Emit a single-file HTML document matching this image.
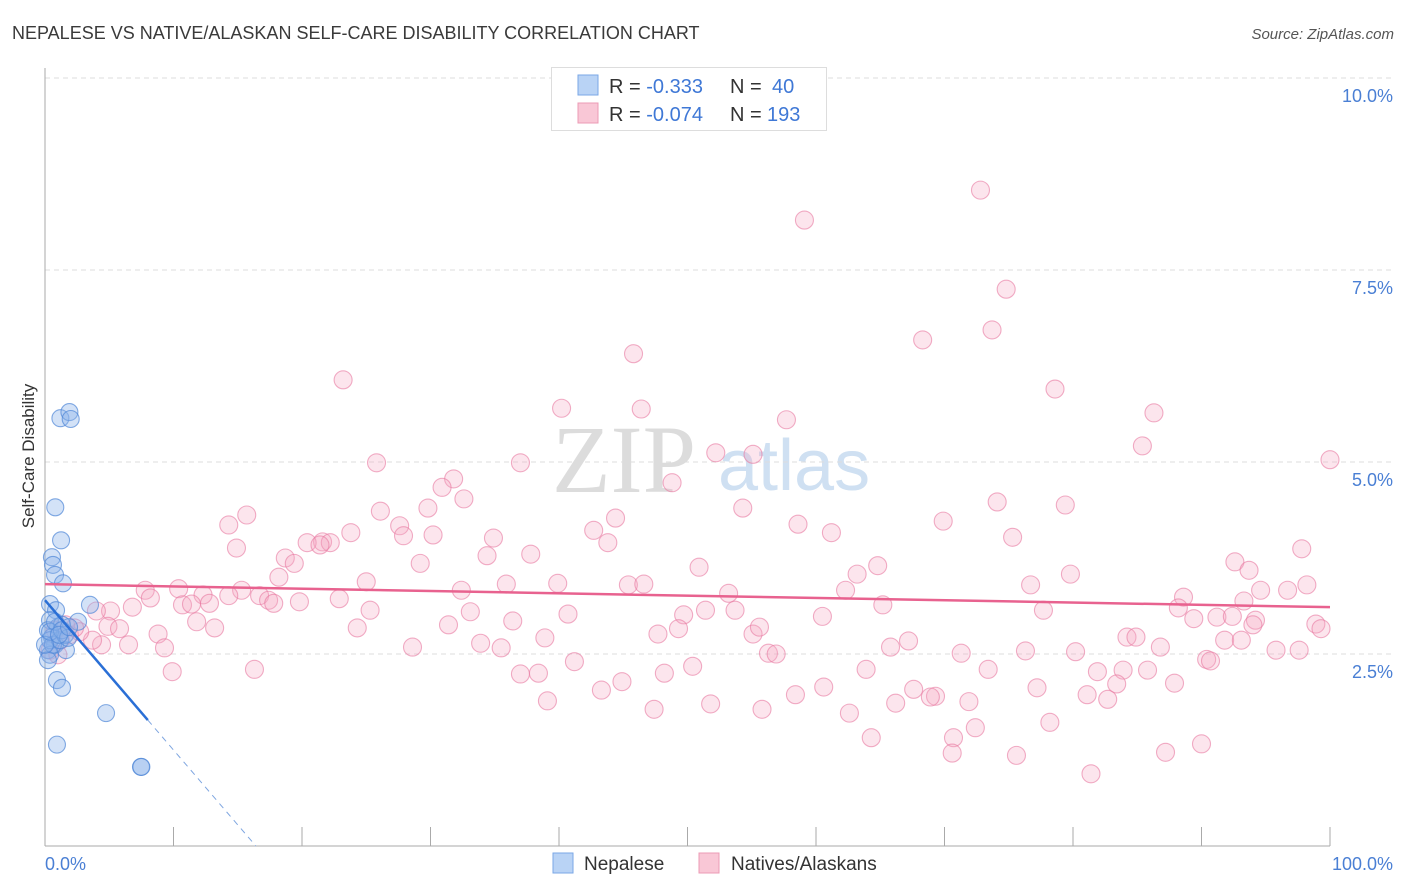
<!DOCTYPE html>
<html><head><meta charset="utf-8"><style>
body{margin:0;background:#fff;font-family:"Liberation Sans",sans-serif;}
svg{display:block}
</style></head><body>
<svg id="chart" width="1406" height="892" xmlns="http://www.w3.org/2000/svg" font-family="Liberation Sans, sans-serif">
<text x="12" y="39" font-size="18" fill="#3a3a3a">NEPALESE VS NATIVE/ALASKAN SELF-CARE DISABILITY CORRELATION CHART</text>
<text x="1394" y="39" font-size="15" font-style="italic" fill="#555" text-anchor="end">Source: ZipAtlas.com</text>
<g>
<text x="552" y="492" font-size="96" font-family="Liberation Serif, serif" fill="#dcdcdc">ZIP</text>
<text x="718" y="490" font-size="72" fill="#cfe0f2">atlas</text>
</g>
<g id="grid"></g>
<g id="axes"></g>
<g id="pink"></g>
<g id="blue"></g>
<g id="trends"></g>
<text transform="translate(34,456) rotate(-90)" font-size="17" fill="#333" text-anchor="middle">Self-Care Disability</text>
<text x="45" y="870" font-size="18" fill="#4a7fd4">0.0%</text>
<text x="1393" y="870" font-size="18" fill="#4a7fd4" text-anchor="end">100.0%</text>
<g>
<rect x="551.5" y="67.5" width="275" height="63" fill="#fff" stroke="#ddd"/>
<rect x="578" y="75" width="20" height="20" fill="#b9d3f5" stroke="#7aa7e6"/>
<rect x="578" y="103" width="20" height="20" fill="#f9c7d6" stroke="#ec9bb5"/>
<text x="609" y="93" font-size="20" fill="#333">R = <tspan fill="#3f78d6">-0.333</tspan><tspan x="730">N = </tspan><tspan x="772" fill="#3f78d6">40</tspan></text>
<text x="609" y="121" font-size="20" fill="#333">R = <tspan fill="#3f78d6">-0.074</tspan><tspan x="730">N = </tspan><tspan x="767" fill="#3f78d6">193</tspan></text>
</g>
<g>
<rect x="553" y="853" width="20" height="20" fill="#b9d3f5" stroke="#7aa7e6"/>
<text x="584" y="870" font-size="19" fill="#333">Nepalese</text>
<rect x="699" y="853" width="20" height="20" fill="#f9c7d6" stroke="#ec9bb5"/>
<text x="731" y="870" font-size="19" fill="#333">Natives/Alaskans</text>
</g>
</svg>
<script>
const yTicks=[2.5,5.0,7.5,10.0];
const yTickLabels=["2.5%","5.0%","7.5%","10.0%"];
const xTicks=[0,10,20,30,40,50,60,70,80,90,100];
const blueX=[1.2,1.9,2.0,0.8,1.25,0.54,0.62,0.78,1.4,0.39,0.86,0.39,1.01,0.23,0.54,0.78,0.23,0.39,2.57,3.5,1.32,1.63,0.39,0.93,1.32,4.75,0.93,7.47,7.5,0.23,0.62,1.17,1.56,0,0.39,0.78,1.32,1.79,1.09,1.87];
const blueY=[5.57,5.65,5.56,4.41,3.98,3.76,3.66,3.53,3.42,3.15,3.07,2.94,2.85,2.81,2.72,2.62,2.55,2.49,2.92,3.14,2.88,2.55,2.68,2.16,2.06,1.73,1.32,1.03,1.03,2.42,2.62,2.68,2.75,2.62,2.79,2.92,2.81,2.71,2.75,2.85];
const pinkX=[72.8,59.1,74.8,73.7,68.3,45.8,23.2,78.6,40.2,46.4,86.3,57.7,52.2,55.1,85.4,100,25.8,37.0,31.8,48.8,30.9,32.6,74.1,79.4,15.7,54.3,26.1,14.3,29.8,69.9,58.6,23.8,44.4,27.6,30.2,27.9,34.9,42.7,43.8,61.2,75.3,97.8,14.9,21.6,20.4,22.2,21.4,18.7,19.4,34.4,37.8,29.2,92.6,93.7,50.9,64.8,63.2,79.8,18.2,25.0,35.9,39.9,45.4,46.6,76.7,94.6,96.7,98.2,10.4,15.3,7.8,8.2,12.3,22.9,32.4,14.3,16.7,17.4,17.8,19.8,10.7,11.4,12.8,6.8,5.1,4.0,53.2,62.3,88.6,88.2,93.3,91.2,92.4,65.2,53.7,51.4,49.7,40.7,33.1,36.4,25.3,77.7,60.5,89.4,94.2,94.0,98.9,99.3,11.8,13.2,4.9,5.8,24.3,31.4,47.7,49.3,55.1,55.6,38.9,33.9,35.5,6.5,4.4,8.8,3.7,9.3,28.6,65.8,67.2,84.2,84.9,86.8,91.8,93.1,95.8,97.6,76.3,80.2,71.3,56.3,56.9,41.2,50.4,63.9,73.4,81.9,83.9,85.8,90.4,90.7,16.3,9.9,37.0,38.4,48.2,44.9,43.3,77.2,83.4,87.9,67.6,69.3,68.9,71.9,60.6,58.4,66.2,39.1,47.4,51.8,55.8,81.1,82.7,62.6,78.2,72.4,64.3,70.7,90.0,70.6,75.6,87.2,81.4,1.2,1.9,2.7,0.8,1.6,2.3,0.4,1.0];
const pinkY=[8.54,8.15,7.25,6.72,6.59,6.41,6.07,5.95,5.70,5.69,5.64,5.55,5.12,5.10,5.21,5.03,4.99,4.99,4.78,4.73,4.67,4.52,4.48,4.44,4.31,4.40,4.36,4.18,4.40,4.23,4.19,4.08,4.27,4.17,4.05,4.04,4.01,4.11,3.95,4.08,4.02,3.87,3.88,3.96,3.95,3.95,3.92,3.75,3.68,3.78,3.80,3.68,3.70,3.59,3.63,3.65,3.54,3.54,3.50,3.44,3.41,3.42,3.40,3.41,3.40,3.33,3.33,3.40,3.35,3.33,3.33,3.23,3.27,3.22,3.33,3.26,3.26,3.20,3.16,3.18,3.14,3.15,3.16,3.11,3.06,3.06,3.29,3.33,3.24,3.10,3.19,2.98,2.99,3.14,3.07,3.07,3.01,3.02,3.05,2.93,3.07,3.07,2.99,2.96,2.94,2.88,2.89,2.83,2.92,2.84,2.86,2.83,2.84,2.88,2.76,2.83,2.76,2.85,2.71,2.64,2.58,2.62,2.62,2.76,2.68,2.58,2.59,2.59,2.67,2.72,2.72,2.59,2.68,2.68,2.55,2.55,2.54,2.53,2.51,2.51,2.50,2.40,2.34,2.30,2.30,2.27,2.29,2.29,2.43,2.41,2.30,2.27,2.24,2.25,2.25,2.14,2.03,2.06,2.11,2.12,2.04,1.95,1.94,1.88,2.07,1.97,1.86,1.89,1.78,1.85,1.78,1.97,1.91,1.73,1.61,1.54,1.41,1.41,1.33,1.21,1.18,1.22,0.94,2.68,2.75,2.79,2.81,2.88,2.84,2.55,2.49];
const blueTrend=[3.2,-0.195];
const pinkTrend=[3.41,-0.003];
const NS="http://www.w3.org/2000/svg";
const X0=45,X1=1330,Y0=846,Y10=78;
function sx(v){return X0+(X1-X0)*v/100;}
function sy(v){return Y0-(Y0-Y10)*v/10;}
function mk(tag,attrs,parent){const e=document.createElementNS(NS,tag);for(const k in attrs)e.setAttribute(k,attrs[k]);parent.appendChild(e);return e;}
const grid=document.getElementById('grid'),axes=document.getElementById('axes');
yTicks.forEach((t,i)=>{
  const l=mk('line',{x1:X0,x2:1393,y1:sy(t),y2:sy(t),stroke:'#ddd','stroke-dasharray':'5,4'},grid);
  
  
  const tx=mk('text',{x:1393,y:sy(t)+24,'font-size':18,fill:'#4a7fd4','text-anchor':'end'},axes);
  tx.textContent=yTickLabels[i];
  
  
});
const ax=mk('line',{x1:X0,x2:X0,y1:68,y2:Y0,stroke:'#aaa'},axes);


const bx=mk('line',{x1:X0,x2:X1,y1:Y0,y2:Y0,stroke:'#aaa'},axes);


xTicks.forEach(t=>{
  const k=mk('line',{x1:sx(t),x2:sx(t),y1:Y0-19,y2:Y0,stroke:'#aaa'},axes);
  
  
});
const pg=document.getElementById('pink');
pinkX.forEach((v,i)=>{
  const c=mk('circle',{cx:sx(v),cy:sy(pinkY[i]),r:9,fill:'rgba(246,170,196,0.3)',stroke:'rgba(232,120,160,0.6)','stroke-width':1.1},pg);
  
  
});
const bg=document.getElementById('blue');
blueX.forEach((v,i)=>{
  const c=mk('circle',{cx:sx(v),cy:sy(blueY[i]),r:8.5,fill:'rgba(140,180,235,0.38)',stroke:'rgba(80,135,215,0.7)','stroke-width':1.1},bg);
  
  
});
const tg=document.getElementById('trends');
const pl=mk('line',{x1:sx(0),y1:sy(pinkTrend[0]),x2:sx(100),y2:sy(pinkTrend[0]+pinkTrend[1]*100),stroke:'#e8628f','stroke-width':2.5},tg);


const bxEnd=8, bxZero=-blueTrend[0]/blueTrend[1];
const bl=mk('line',{x1:sx(0),y1:sy(blueTrend[0]),x2:sx(bxEnd),y2:sy(blueTrend[0]+blueTrend[1]*bxEnd),stroke:'#2a6fd6','stroke-width':2.5},tg);


const bd=mk('line',{x1:sx(bxEnd),y1:sy(blueTrend[0]+blueTrend[1]*bxEnd),x2:sx(bxZero),y2:sy(0),stroke:'#7fa6e0','stroke-width':1,'stroke-dasharray':'6,5'},tg);


</script>
</body></html>
